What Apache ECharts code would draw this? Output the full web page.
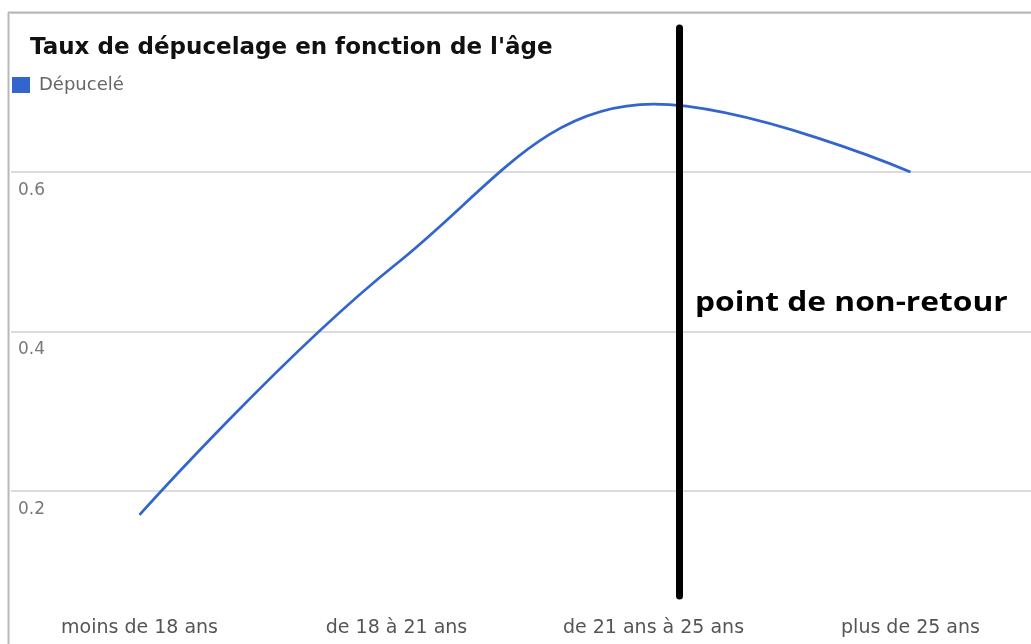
<!DOCTYPE html>
<html>
<head>
<meta charset="utf-8">
<script src="https://cdn.jsdelivr.net/npm/echarts@6/dist/echarts.min.js"></script>
<style>
html,body{margin:0;padding:0;background:#fff;}
#c{width:1031px;height:644px;}
</style>
</head>
<body>
<div id="c"></div>
<script>
const categories = ['moins de 18 ans', 'de 18 à 21 ans', 'de 21 ans à 25 ans', 'plus de 25 ans'];
const depuceleValues = [0.17, 0.485, 0.685, 0.6];
const yTickLabels = ['0.2', '0.4', '0.6'];
const seriesName = 'Dépucelé';
const chartTitle = "Taux de dépucelage en fonction de l'âge";
const annotationText = 'point de non-retour';

const chart = echarts.init(document.getElementById('c'), null, {renderer: 'canvas'});
chart.setOption({
  animation: false,
  backgroundColor: '#fff',
  title: {
    text: chartTitle,
    left: 25, top: 32,
    textStyle: {fontFamily: 'DejaVu Sans', fontWeight: 'bold', fontSize: 23, color: '#111'}
  },
  legend: {
    data: [seriesName],
    left: 7, top: 71,
    icon: 'rect', itemWidth: 18, itemHeight: 16, itemGap: 10,
    textStyle: {fontFamily: 'DejaVu Sans', fontSize: 18, color: '#666', padding: [0,0,0,4]}
  },
  grid: {left: 11, top: 12.5, width: 1028, height: 638, outerBoundsMode: 'none', containLabel: false},
  xAxis: {
    type: 'category',
    data: categories,
    boundaryGap: true,
    axisLine: {show: false},
    axisTick: {show: false},
    axisLabel: {inside: true, margin: 13, fontFamily: 'DejaVu Sans', fontSize: 19, color: '#555'}
  },
  yAxis: {
    type: 'value',
    min: 0, max: 0.8, interval: 0.2,
    axisLine: {show: false},
    axisTick: {show: false},
    splitLine: {lineStyle: {color: '#dcdcdc', width: 2}},
    axisLabel: {
      inside: true, margin: 7,
      verticalAlign: 'top', padding: [10, 0, 0, 0],
      fontFamily: 'DejaVu Sans', fontSize: 17, color: '#777',
      formatter: function (v) {
        const s = v.toFixed(1);
        return yTickLabels.indexOf(s) >= 0 ? s : '';
      }
    }
  },
  series: [{
    name: seriesName,
    type: 'line',
    data: depuceleValues,
    smooth: 0.4,
    showSymbol: false,
    symbol: 'none',
    itemStyle: {color: '#3366cc'},
    lineStyle: {color: '#3366cc', width: 2.7}
  }],
  graphic: [
    {type: 'line', shape: {x1: 8.5, y1: 12.5, x2: 8.5, y2: 644}, style: {stroke: '#b8b8b8', lineWidth: 2}, z: 100},
    {type: 'line', shape: {x1: 8, y1: 12.5, x2: 1031, y2: 12.5}, style: {stroke: '#b8b8b8', lineWidth: 2}, z: 100},
    {type: 'line', shape: {x1: 679.5, y1: 28, x2: 679.5, y2: 596}, style: {stroke: '#000', lineWidth: 7, lineCap: 'round'}, z: 100},
    {type: 'text', x: 695, y: 291, scaleX: 1.22, style: {text: annotationText, fill: '#000', font: 'bold 26px "Open Sans", sans-serif'}, z: 100}
  ]
});
</script>
</body>
</html>
